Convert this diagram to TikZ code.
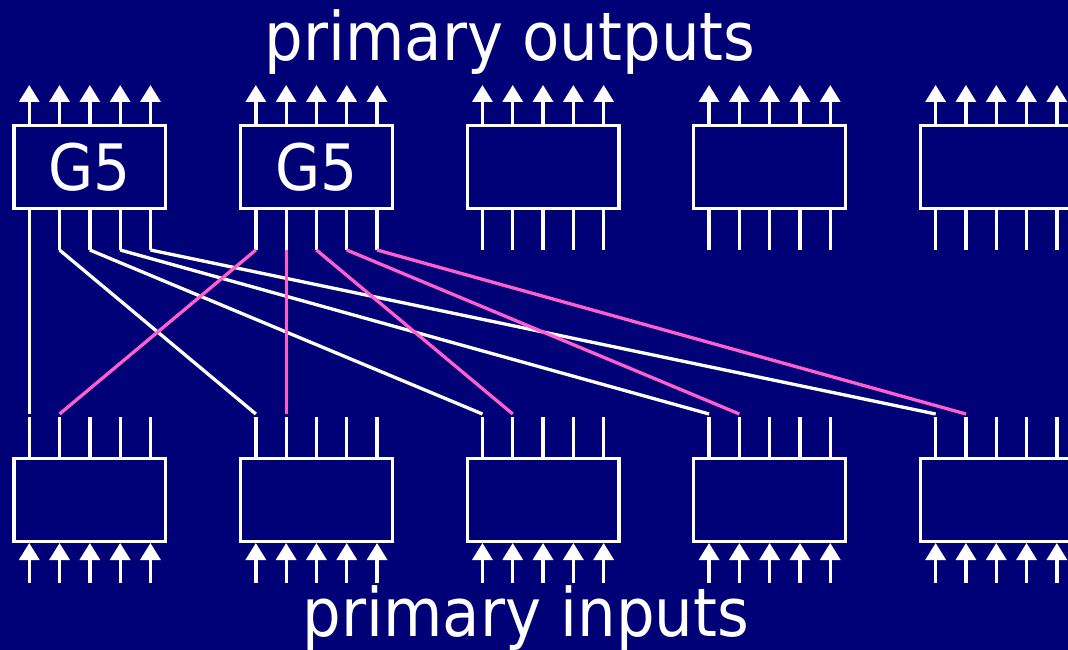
\documentclass[tikz,border=0pt]{standalone}
\usepackage{fontspec}
\newfontfamily\lab[FakeStretch=0.91]{DejaVu Sans}
\usetikzlibrary{arrows.meta}
\definecolor{navy}{RGB}{0,0,119}
\definecolor{pinkwire}{RGB}{255,95,205}
\begin{document}
\begin{tikzpicture}[x=1pt,y=-1pt,
  gate/.style={draw=white,line width=3.3pt,minimum width=151.7pt,minimum height=82.6pt,inner sep=0pt,text=white,font=\lab\fontsize{64}{64}\selectfont},
  pinline/.style={white,line width=3.3pt},
  ioarrow/.style={white,line width=3.3pt,-{Triangle[width=20pt,length=17pt]}},
  wire/.style={white,line width=3.3pt},
  pwire/.style={pinkwire,line width=3.3pt},
  title/.style={text=white,font=\lab\fontsize{67}{67}\selectfont,inner sep=0pt}]
\fill[navy] (0,0) rectangle (1068,650);
\useasboundingbox (0,0) rectangle (1068,650);
% gates
\foreach \i/\t in {0/G5,1/G5,2/,3/,4/} {
  \pgfmathsetmacro\cx{89.85+226.6*\i}
  \node[gate] (T\i) at (\cx,167) {\t};
  \node[gate] (B\i) at (\cx,500) {};
  \foreach \j in {0,...,4} {
    \pgfmathsetmacro\x{\cx+(\j-2)*30.3}
    \coordinate (T\i-\j-n) at (\x,125.7);
    \coordinate (T\i-\j-up) at (\x,85);
    \coordinate (T\i-\j-s) at (\x,208.3);
    \coordinate (T\i-\j-e) at (\x,250);
    \coordinate (B\i-\j-n) at (\x,458.7);
    \coordinate (B\i-\j-pin) at (\x,417);
    \coordinate (B\i-\j-e) at (\x,414);
    \coordinate (B\i-\j-s) at (\x,543);
    \coordinate (B\i-\j-in) at (\x,583);
    \draw[ioarrow] (T\i-\j-n) -- (T\i-\j-up);
    \draw[pinline] (T\i-\j-s) -- (T\i-\j-e);
    \draw[pinline] (B\i-\j-pin) -- (B\i-\j-n);
    \draw[ioarrow] (B\i-\j-in) -- (B\i-\j-s);
  }
}
% wires
\foreach \j in {0,...,4} {
  \draw[wire] (T0-\j-e) -- (B\j-0-e);
}
\foreach \j in {0,...,4} {
  \draw[pwire] (T1-\j-e) -- (B\j-1-e);
}
% titles
\node[title,anchor=base] (po) at (510,61) {primary outputs};
\node[title,anchor=base] (pi) at (526,636) {primary inputs};
\end{tikzpicture}
\end{document}
